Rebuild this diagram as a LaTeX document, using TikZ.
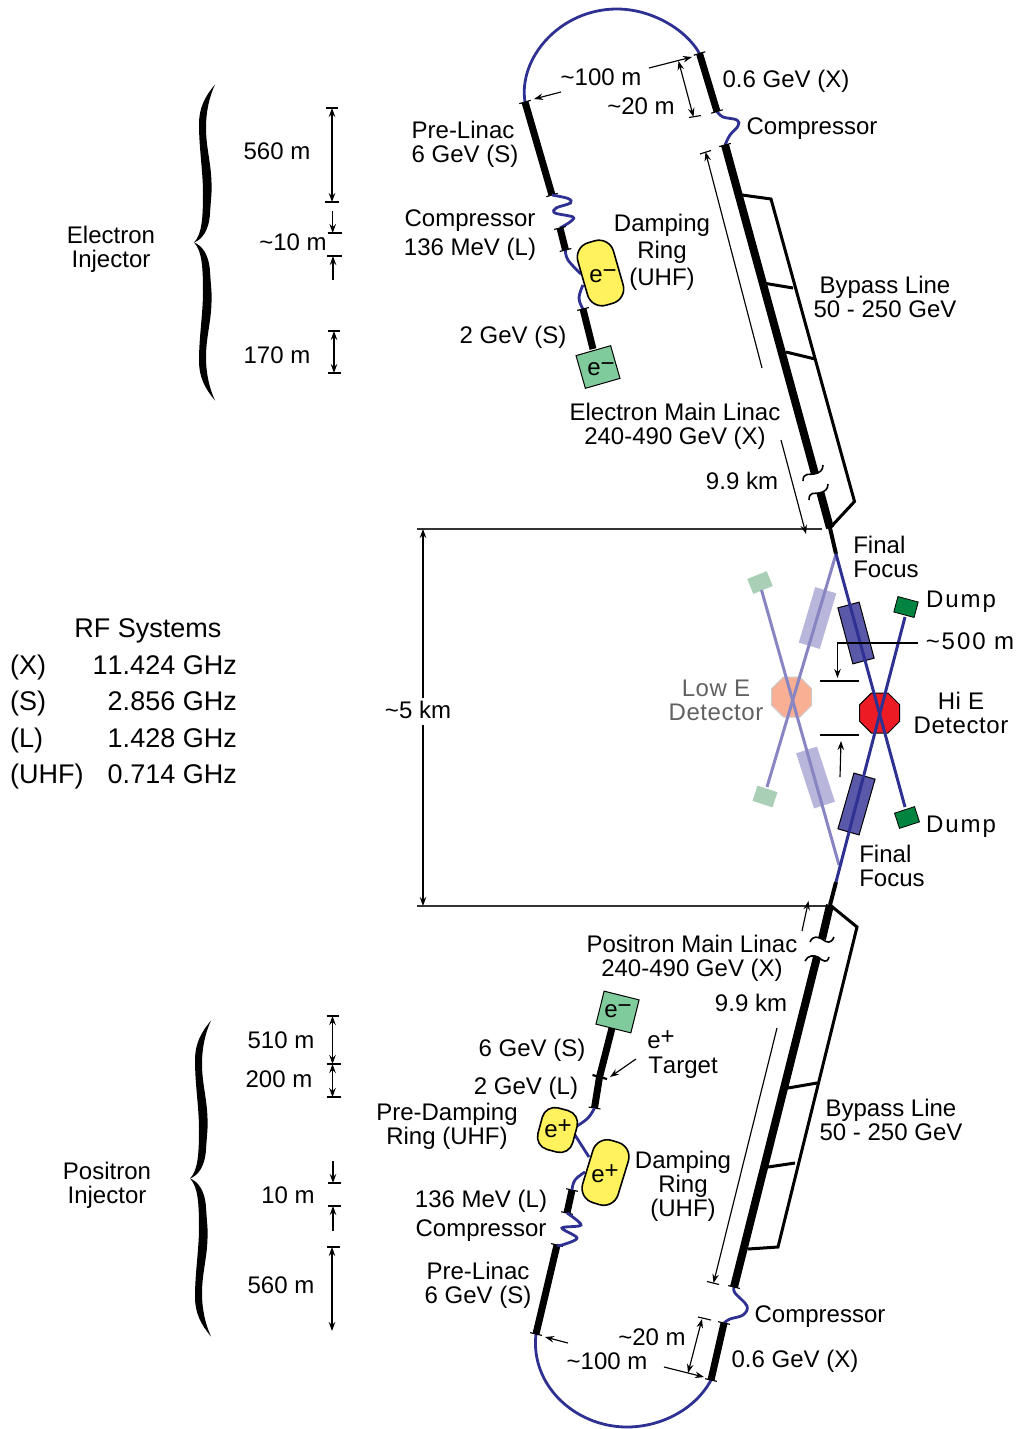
\documentclass[tikz,border=0pt]{standalone}
\usepackage{fontspec}
\setmainfont[Kerning=Off]{Liberation Sans}
\newfontfamily\spacedfont[LetterSpace=8,Kerning=Off]{Liberation Sans}
\newfontfamily\widefont[LetterSpace=2.4,Kerning=Off]{Liberation Sans}
\usetikzlibrary{arrows.meta,calc,shapes.geometric}
\definecolor{rfblue}{HTML}{2E3192}
\definecolor{lightblue}{HTML}{8785C2}
\definecolor{magdark}{HTML}{5A58A8}
\definecolor{maglight}{HTML}{B9B6DB}
\definecolor{ringyellow}{HTML}{FFF25C}
\definecolor{gungreen}{HTML}{7FCB9C}
\definecolor{dumpgreen}{HTML}{00843F}
\definecolor{dumplight}{HTML}{A9CFB6}
\definecolor{hired}{HTML}{ED1C24}
\definecolor{lowsalmon}{HTML}{F9AF94}
\tikzset{
  lbl/.style={inner sep=0pt,align=center,text height=21pt,text depth=5pt,font=\fontsize{24}{24}\selectfont},
  leftlbl/.style={lbl,align=left},
  tbl/.style={lbl,font=\fontsize{27}{27}\selectfont},
  widelbl/.style={lbl,font=\fontsize{24}{24}\widefont},
  graylbl/.style={widelbl,text=black!62},
  beam/.style={line width=7pt,black},
  thinbeam/.style={line width=4pt,black},
  mainbeam/.style={line width=8pt,black},
  bypass/.style={line width=3pt,black,line join=miter},
  rf/.style={line width=2.8pt,rfblue},
  hibeam/.style={line width=3pt,rfblue},
  lobeam/.style={line width=3pt,lightblue},
  tickmark/.style={line width=1.15pt,black},
  guide/.style={line width=1.2pt,black!80},
  onearrow/.style={line width=1.15pt,black,-{Stealth[length=9pt,width=6.5pt,inset=3pt]}},
  twoarrow/.style={line width=1.15pt,black,{Stealth[length=9pt,width=6.5pt,inset=3pt]}-{Stealth[length=9pt,width=6.5pt,inset=3pt]}},
  ringbox/.style={draw=black,line width=1.6pt,fill=ringyellow,rectangle,rounded corners=15pt,inner sep=0pt},
  gunbox/.style={draw=black,line width=1pt,fill=gungreen,rectangle,inner sep=0pt,minimum width=36pt,minimum height=34pt},
  magnetdark/.style={draw=black,line width=1pt,fill=magdark,rectangle,inner sep=0pt,minimum width=22pt,minimum height=58pt},
  magnetlight/.style={fill=maglight,rectangle,inner sep=0pt,minimum width=22pt,minimum height=58pt},
  dumpdark/.style={draw=black,line width=.8pt,fill=dumpgreen,rectangle,inner sep=0pt,minimum width=21pt,minimum height=16pt},
  dumppale/.style={fill=dumplight,rectangle,inner sep=0pt,minimum width=21pt,minimum height=16pt},
  octa/.style={regular polygon,regular polygon sides=8,minimum size=43.3pt,inner sep=0pt},
  wavy/.style={line width=1.6pt,black},
}
\newcommand{\barat}[2]{\draw[tickmark] ($(#1)!6pt!90:(#2)$) -- ($(#1)!6pt!-90:(#2)$);}
\newcommand{\curlyhalf}[3]{\fill[black,shift={(#1,#2)},yscale=#3] (21,-158) .. controls (11,-146) and (5,-135) .. (5,-118) .. controls (5,-95) and (9,-70) .. (9,-50) .. controls (9,-25) and (8,-8) .. (0,0) .. controls (8,-3) and (15,-12) .. (16,-29) .. controls (17,-45) and (18,-50) .. (17.5,-60) .. controls (17,-80) and (12,-95) .. (12,-115) .. controls (12,-130) and (15,-145) .. (21,-158) -- cycle;}
\newcommand{\pt}[3]{\coordinate (#1) at (#2,#3);}
\newcommand{\eminus}{e\raisebox{4pt}{−}}
\newcommand{\eplus}{e\raisebox{4pt}{+}}
\begin{document}
\begin{tikzpicture}[x=1pt,y=-1pt]
\useasboundingbox (0,0) rectangle (1021,1429);

% ---------- braces
\curlyhalf{194}{242.5}{1}
\curlyhalf{194}{242.5}{-1}
\curlyhalf{190}{1178.5}{1}
\curlyhalf{190}{1178.5}{-1}

% ---------- electron injector length scale
\pt{ea}{332}{108}\pt{eb}{332}{202}\pt{ec}{332.7}{211}\pt{ed}{332.7}{233}
\pt{ee}{333}{256}\pt{ef}{333}{280}\pt{eg}{334}{331}\pt{eh}{334}{373}
\draw[tickmark] ($(ea)+(-6,0)$) -- ($(ea)+(6,0)$);
\draw[tickmark] ($(eb)+(-7,0)$) -- ($(eb)+(7,0)$);
\draw[tickmark] ($(ed)+(-5,0)$) -- ($(ed)+(9,0)$);
\draw[tickmark] ($(ee)+(-6,0)$) -- ($(ee)+(9,0)$);
\draw[tickmark] ($(eg)+(-6,0)$) -- ($(eg)+(6,0)$);
\draw[tickmark] ($(eh)+(-6,0)$) -- ($(eh)+(7,0)$);
\draw[twoarrow] (ea) -- (eb);
\draw[onearrow] (ec) -- (ed);
\draw[onearrow] (ef) -- (ee);
\draw[twoarrow] (eg) -- (eh);

% ---------- positron injector length scale
\pt{pa}{332.5}{1016}\pt{pb}{332.5}{1064}\pt{pc}{332.5}{1097}\pt{pd}{333}{1161}\pt{pe}{333}{1183}
\pt{pf}{333}{1206}\pt{pg}{333}{1231}\pt{ph}{332}{1247}\pt{pi}{332}{1331}
\draw[tickmark] ($(pa)+(-6,0)$) -- ($(pa)+(6,0)$);
\draw[tickmark] ($(pb)+(-6,0)$) -- ($(pb)+(8,0)$);
\draw[tickmark] ($(pc)+(-6,0)$) -- ($(pc)+(8,0)$);
\draw[tickmark] ($(pe)+(-5,0)$) -- ($(pe)+(8,0)$);
\draw[tickmark] ($(pf)+(-5,0)$) -- ($(pf)+(8,0)$);
\draw[tickmark] ($(ph)+(-5,0)$) -- ($(ph)+(8,0)$);
\draw[twoarrow] (pa) -- (pb);
\draw[twoarrow] (pb) -- (pc);
\draw[onearrow] (pd) -- (pe);
\draw[onearrow] (pg) -- (pf);
\draw[twoarrow] (ph) -- (pi);

% ---------- ~5 km
\pt{ga}{417}{529}\pt{gb}{822}{529}\pt{gc}{417}{906}\pt{gd}{826}{906}
\pt{gea}{423}{529}\pt{geb}{423}{698}\pt{gec}{423}{725}\pt{ged}{423}{906}
\draw[guide] (ga) -- (gb);
\draw[guide] (gc) -- (gd);
\draw[onearrow] (geb) -- (gea);
\draw[onearrow] (gec) -- (ged);

% ---------- top: turn-around and upper linac
\pt{tA}{525}{102}\pt{tB}{552}{195}\pt{tC}{699.5}{53.5}\pt{tD}{717}{111.5}
\pt{tE}{725}{145}\pt{tF}{815}{474}\pt{tG}{820.5}{493}\pt{tH}{830}{528}\pt{tI}{836}{554}
\draw[rf] (tA) .. controls (518,58) and (560,9) .. (617,9) .. controls (650,9) and (685,28) .. (tC);
\draw[rf] plot[smooth,tension=.6] coordinates {(tD) (723,117) (737,120) (738,126) (730,135) (tE)};
\draw[beam] (tA) -- (tB);
\draw[beam] (tC) -- (tD);
\draw[mainbeam] (tE) -- (tF);
\draw[mainbeam] (tG) -- (tH);
\draw[thinbeam] (tH) -- (tI);
\barat{tA}{tB}\barat{tB}{tA}\barat{tC}{tD}\barat{tD}{tC}\barat{tE}{tF}
% bypass
\pt{byA}{742}{195}\pt{byB}{771}{199}\pt{byC}{854.5}{501.5}\pt{byD}{829}{529}
\draw[bypass] (byA) -- (byB) -- (byC) -- (byD);
\pt{byrA}{763}{283}\pt{byrB}{793}{288}\pt{byrC}{786}{352}\pt{byrD}{815}{359}
\draw[bypass] (byrA) -- (byrB);
\draw[bypass] (byrC) -- (byrD);
% break marks
\draw[wavy] (803,481) .. controls (803,472) and (810,475) .. (814,474) .. controls (820,473) and (823,470) .. (823,465);
\draw[wavy] (809,500) .. controls (809,491) and (815,494) .. (819,493) .. controls (825,492) and (828,489) .. (828,484);
% length marks
\pt{mA}{705.5}{152}\pt{mB}{762}{368}
\draw[tickmark] (700,154) -- (711,150.5);
\draw[onearrow] (mB) -- (mA);
\pt{mC}{781}{440}\pt{mD}{806}{534}
\draw[onearrow] (mC) -- (mD);
\pt{mE}{561}{92}\pt{mF}{534}{99}\pt{mG}{649}{68}\pt{mH}{692}{57}
\draw[onearrow] (mE) -- (mF);
\draw[onearrow] (mG) -- (mH);
\pt{mI}{678.5}{61}\pt{mJ}{693.5}{117}
\draw[twoarrow] (mI) -- (mJ);
\draw[tickmark] (689,117.5) -- (701,115.5);

% ---------- electron injector
\pt{iA}{560}{228}\pt{iB}{565.5}{250}\pt{iC}{583}{309}\pt{iD}{593}{349}
\draw[rf] plot[smooth,tension=.55] coordinates {(tB) (568,198.5) (570.5,203) (556,208) (555,213) (573,217) (570,222) (iA)};
\draw[rf] plot[smooth,tension=.7] coordinates {(iB) (568,260) (581,274)};
\draw[rf] plot[smooth,tension=.7] coordinates {(583,285) (579,298) (iC)};
\draw[beam] (iA) -- (iB);
\draw[beam] (iC) -- (iD);
\barat{iA}{iB}\barat{iB}{iA}\barat{iC}{iD}
\node[ringbox,minimum width=37pt,minimum height=65pt,rotate=16] (ering) at (600.5,273) {};
\node[gunbox,rotate=16] (egun) at (598,367) {};
\node[lbl] (eringtxt) at (603,274) {\eminus};
\node[lbl] (eguntxt) at (601,367) {\eminus};

% ---------- interaction region
\node[magnetlight,rotate=-16.5] (mlu) at (817.5,618) {};
\node[magnetlight,rotate=18] (mll) at (815.5,777.5) {};
\node[octa,fill=lowsalmon,draw=black!20,line width=1pt] (lodet) at (791.7,697) {};
\node[dumppale,rotate=22] (dlu) at (760,582.5) {};
\node[dumppale,rotate=-18] (dll) at (765,796.5) {};
\pt{iuA}{836}{554}\pt{iuB}{767}{787}\pt{ilA}{839}{865}\pt{ilB}{761.5}{590}
\pt{hdA}{836}{554}\pt{hdB}{905}{807}\pt{huA}{836}{882}\pt{huB}{905}{617}
\draw[lobeam] (iuA) -- (iuB);
\draw[lobeam] (ilA) -- (ilB);
\node[magnetdark,rotate=15] (mdu) at (856,633) {};
\node[magnetdark,rotate=-16] (mdl) at (856.5,804) {};
\node[octa,fill=hired,draw=black,line width=1pt] (hidet) at (879.7,713) {};
\node[dumpdark,rotate=-15] (ddu) at (906,607) {};
\node[dumpdark,rotate=18] (ddl) at (907,817.5) {};
\draw[hibeam] (hdA) -- (hdB);
\draw[hibeam] (huA) -- (huB);
% ~500 m marks
\pt{fA}{820}{681}\pt{fB}{859}{681}\pt{fC}{820}{735}\pt{fD}{859}{735}
\draw[tickmark] (fA) -- (fB);
\draw[tickmark] (fC) -- (fD);
\pt{fE}{918}{643}\pt{fF}{837.5}{643}\pt{fG}{837.5}{678}\pt{fH}{840}{777}\pt{fI}{841}{741}
\draw[onearrow] (fE) -- (fF) -- (fG);
\draw[onearrow] (fH) -- (fI);

% ---------- lower linac and turn-around
\pt{bA}{836}{882}\pt{bB}{830}{905}\pt{bC}{822}{939}\pt{bD}{817}{957}\pt{bE}{734}{1287}
\pt{bF}{724}{1323}\pt{bG}{711}{1380}\pt{bH}{557}{1245}\pt{bI}{536}{1334}
\draw[thinbeam] (bA) -- (bB);
\draw[mainbeam] (bB) -- (bC);
\draw[mainbeam] (bD) -- (bE);
\draw[beam] (bF) -- (bG);
\draw[beam] (bH) -- (bI);
\draw[rf] (bI) .. controls (530,1385) and (575,1427) .. (627,1427) .. controls (660,1427) and (695,1410) .. (bG);
\draw[rf] plot[smooth,tension=.6] coordinates {(bE) (735,1293) (747,1306) (743,1315) (730,1319) (bF)};
\barat{bE}{bD}\barat{bF}{bG}\barat{bG}{bF}\barat{bH}{bI}\barat{bI}{bH}
\pt{cyA}{748}{1249}\pt{cyB}{778}{1247}\pt{cyC}{857}{927}\pt{cyD}{830}{905}
\draw[bypass] (cyA) -- (cyB) -- (cyC) -- (cyD);
\pt{cyrA}{788}{1088}\pt{cyrB}{817}{1083}\pt{cyrC}{768}{1167}\pt{cyrD}{795}{1163}
\draw[bypass] (cyrA) -- (cyrB);
\draw[bypass] (cyrC) -- (cyrD);
\draw[wavy] (810,942) .. controls (813,935) and (818,937) .. (822,939) .. controls (827,943) and (831,944) .. (834,937);
\draw[wavy] (805,961) .. controls (808,955) and (814,955) .. (818,957) .. controls (823,961) and (827,964) .. (829,957);
\pt{nA}{777}{1028}\pt{nB}{713.5}{1283}
\draw[onearrow] (nA) -- (nB);
\draw[tickmark] (707,1281.5) -- (719,1284.5);
\pt{nC}{802}{931}\pt{nD}{808.5}{901}
\draw[onearrow] (nC) -- (nD);
\pt{nE}{568}{1343}\pt{nF}{545}{1337}\pt{nG}{664}{1367}\pt{nH}{704}{1377}
\draw[onearrow] (nE) -- (nF);
\draw[onearrow] (nG) -- (nH);
\pt{nI}{702}{1319}\pt{nJ}{688}{1373}
\draw[twoarrow] (nI) -- (nJ);
\draw[tickmark] (698,1317) -- (711,1320);

% ---------- positron injector
\pt{jA}{612}{1028}\pt{jB}{599.5}{1077}\pt{jC}{594.5}{1108}\pt{jD}{572}{1190}\pt{jE}{567}{1213}
\draw[beam] (jA) -- (jB);
\draw[beam] (jB) -- (jC);
\draw[beam] (jD) -- (jE);
\draw[tickmark,line width=2.2pt] (592.5,1075) -- (607,1079);
\barat{jC}{jB}\barat{jD}{jE}\barat{jE}{jD}
\draw[rf] plot[smooth,tension=.7] coordinates {(jC) (588,1118) (577,1126)};
\draw[rf] plot[smooth,tension=.7] coordinates {(575,1135) (582,1146) (589,1157)};
\draw[rf] plot[smooth,tension=.7] coordinates {(585,1172) (575,1180) (jD)};
\draw[rf] plot[smooth,tension=.55] coordinates {(jE) (581,1225) (562,1228) (577,1238) (562,1245) (bH)};
\node[ringbox,rounded corners=13pt,minimum width=36pt,minimum height=43pt,rotate=-15] (pdring) at (557.5,1130) {};
\node[ringbox,minimum width=37pt,minimum height=65pt,rotate=-17] (dring) at (605.5,1172.5) {};
\node[gunbox,rotate=-14] (pgun) at (617.5,1012) {};
\node[lbl] (pdtxt) at (558,1129) {\eplus};
\node[lbl] (dtxt) at (605,1174) {\eplus};
\node[lbl] (pguntxt) at (618,1009) {\eminus};
\pt{kA}{636}{1059}\pt{kB}{610}{1077}
\draw[onearrow] (kA) -- (kB);

% ---------- labels (a many-line label is placed by its last line)
\node[lbl] (t01) at (111,259) {Electron\\Injector};
\node[lbl] (t02) at (277,151) {560 m};
\node[lbl] (t03) at (293,242) {\textasciitilde10 m};
\node[lbl] (t04) at (277,355) {170 m};
\node[leftlbl] (t05) at (465,154) {Pre-Linac\\6 GeV (S)};
\node[lbl] (t06) at (601,77) {\textasciitilde100 m};
\node[lbl] (t07) at (641,106) {\textasciitilde20 m};
\node[lbl] (t08) at (786,79.5) {0.6 GeV (X)};
\node[lbl] (t09) at (812,126) {Compressor};
\node[lbl] (t10) at (470,247) {Compressor\\[5pt]136 MeV (L)};
\node[lbl] (t11) at (662,277) {Damping\\[3pt]Ring\\[3pt](UHF)};
\node[lbl] (t12) at (885,309) {Bypass Line\\50 - 250 GeV};
\node[lbl] (t13) at (513,335) {2 GeV (S)};
\node[lbl] (t14) at (675,436) {Electron Main Linac\\240-490 GeV (X)};
\node[lbl] (t15) at (742,481) {9.9 km};
\node[leftlbl] (t16) at (886,569) {Final\\Focus};
\node[lbl,font=\fontsize{24}{24}\spacedfont] (t17) at (961,599) {Dump};
\node[lbl,font=\fontsize{24}{24}\spacedfont] (t18) at (970,641) {\textasciitilde500 m};
\node[graylbl] (t19) at (716,712) {Low E\hspace{8pt}\\Detector};
\node[widelbl] (t20) at (961,725) {Hi E\\Detector};
\node[lbl] (t21) at (418,710) {\textasciitilde5 km};
\node[tbl] (t22) at (148,629) {RF Systems};
\node[tbl,anchor=west] (t23) at (10,666) {(X)};
\node[tbl,anchor=east] (t24) at (237,666) {11.424 GHz};
\node[tbl,anchor=west] (t25) at (10,702) {(S)};
\node[tbl,anchor=east] (t26) at (237,702) {2.856 GHz};
\node[tbl,anchor=west] (t27) at (10,739) {(L)};
\node[tbl,anchor=east] (t28) at (237,739) {1.428 GHz};
\node[tbl,anchor=west] (t29) at (10,775) {(UHF)};
\node[tbl,anchor=east] (t30) at (237,775) {0.714 GHz};
\node[lbl,font=\fontsize{24}{24}\spacedfont] (t31) at (961,824) {Dump};
\node[leftlbl] (t32) at (892,878) {Final\\Focus};
\node[lbl] (t33) at (692,968) {Positron Main Linac\\240-490 GeV (X)};
\node[lbl] (t34) at (751,1003) {9.9 km};
\node[lbl] (t35) at (661,1040) {\eplus};
\node[lbl] (t36) at (683,1065) {Target};
\node[lbl] (t37) at (532,1048) {6 GeV (S)};
\node[lbl] (t38) at (526,1086) {2 GeV (L)};
\node[lbl] (t39) at (447,1136) {Pre-Damping\\Ring (UHF)};
\node[lbl] (t40) at (891,1132) {Bypass Line\\50 - 250 GeV};
\node[lbl] (t41) at (683,1208) {Damping\\Ring\\(UHF)};
\node[lbl] (t42) at (481,1228) {136 MeV (L)\\[5pt]Compressor};
\node[lbl] (t43) at (478,1295) {Pre-Linac\\6 GeV (S)};
\node[lbl] (t44) at (820,1314) {Compressor};
\node[lbl] (t45) at (652,1337) {\textasciitilde20 m};
\node[lbl] (t46) at (607,1361) {\textasciitilde100 m};
\node[lbl] (t47) at (795,1359) {0.6 GeV (X)};
\node[lbl] (t48) at (281,1040) {510 m};
\node[lbl] (t49) at (279,1079) {200 m};
\node[lbl] (t50) at (288,1195) {10 m};
\node[lbl] (t51) at (281,1285) {560 m};
\node[lbl] (t52) at (107,1195) {Positron\\Injector};
\end{tikzpicture}
\end{document}
